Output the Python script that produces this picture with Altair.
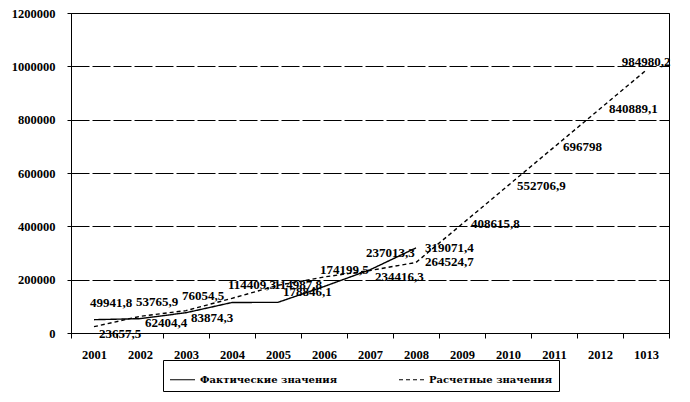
import altair as alt
import pandas as pd

years = list(range(2001, 2014))
x_labels = ["2001", "2002", "2003", "2004", "2005", "2006", "2007",
            "2008", "2009", "2010", "2011", "2012", "1013"]

actual = [49941.8, 53765.9, 76054.5, 114409.3, 114987.8, 174199.5, 237013.3, 319071.4]
actual_labels = ["49941,8", "53765,9", "76054,5", "114409,3", "114987,8",
                 "174199,5", "237013,3", "319071,4"]

calc = [23657.5, 62404.4, 83874.3, 130000.0, 178846.1, 210000.0, 234416.3,
        264524.7, 408615.8, 552706.9, 696798.0, 840889.1, 984980.2]
calc_labels = ["23657,5", "62404,4", "83874,3", "", "178846,1", "", "234416,3",
               "264524,7", "408615,8", "552706,9", "696798", "840889,1", "984980,2"]

s_act = "Фактические значения"
s_calc = "Расчетные значения"

rows = []
for y, v, l in zip(years, actual, actual_labels):
    rows.append({"year": y, "value": v, "series": s_act, "label": l})
for y, v, l in zip(years, calc, calc_labels):
    rows.append({"year": y, "value": v, "series": s_calc, "label": l})
df = pd.DataFrame(rows)

y_ticks = [0, 200000, 400000, 600000, 800000, 1000000, 1200000]
bounds = [y - 0.5 for y in years] + [years[-1] + 0.5]
last_fact_year = years[len(actual) - 1]

label_expr = "[" + ",".join("'" + s + "'" for s in x_labels) + "][datum.value - %d]" % years[0]

SERIF = "Liberation Serif"

xscale = alt.Scale(domain=[bounds[0], bounds[-1]], nice=False, zero=False)
yscale = alt.Scale(domain=[0, 1200000], nice=False)

x_lab = alt.X("year:Q", scale=xscale, title=None,
              axis=alt.Axis(values=years, labelExpr=label_expr, tickSize=0,
                            domain=False, grid=False, orient="bottom",
                            labelFont=SERIF, labelFontWeight="bold",
                            labelFontSize=12.5, labelColor="black",
                            labelPadding=15))
y_enc = alt.Y("value:Q", scale=yscale, title=None,
              axis=alt.Axis(values=y_ticks, grid=True, gridColor="black",
                            gridDash=[18, 3], gridWidth=1,
                            domainColor="black", tickColor="black", tickSize=4,
                            labelFont=SERIF, labelFontWeight="bold",
                            labelFontSize=12.5, labelColor="black",
                            labelPadding=12, format="d"))

lines = alt.Chart(df).mark_line(color="black", strokeWidth=1.4).encode(
    x=x_lab,
    y=y_enc,
    strokeDash=alt.StrokeDash(
        "series:N",
        scale=alt.Scale(domain=[s_act, s_calc], range=[[1, 0], [4, 3]]),
        legend=alt.Legend(
            title=None, orient="none", legendX=92, legendY=347,
            direction="horizontal", strokeColor="black", padding=6,
            symbolType="stroke", symbolSize=625, symbolStrokeWidth=1.2,
            symbolStrokeColor="black", labelFont="DejaVu Serif",
            labelFontWeight="bold", labelFontSize=10, labelColor="black",
            columnPadding=58, labelOffset=4, fillColor="white",
        ),
    ),
    detail="series:N",
)

tick_axis = alt.Chart(pd.DataFrame({"b": bounds})).mark_point(opacity=0).encode(
    x=alt.X("b:Q", scale=xscale, title=None,
            axis=alt.Axis(values=bounds, labels=False, tickSize=5,
                          tickColor="black", domainColor="black", grid=False,
                          orient="bottom")),
)

txt_style = dict(font=SERIF, fontWeight="bold", fontSize=13, color="black")
x_plain = alt.X("year:Q", scale=xscale, axis=None)
y_plain = alt.Y("value:Q", scale=yscale)
has_label = alt.datum.label != ""


def text_layer(cond, **mark_kw):
    return alt.Chart(df).transform_filter(cond & has_label).mark_text(
        **mark_kw, **txt_style
    ).encode(x=x_plain, y=y_plain, text="label:N")


# in-sample years: actual values above the line, calculated values below it
lab_act = text_layer((alt.datum.series == s_act) & (alt.datum.year < last_fact_year),
                     align="left", baseline="bottom", dx=-4, dy=-10)
lab_calc = text_layer((alt.datum.series == s_calc) & (alt.datum.year < last_fact_year),
                      align="left", baseline="top", dx=5, dy=1)
# last fact year and forecast: right of the point
lab_right = text_layer((alt.datum.year >= last_fact_year) & (alt.datum.year < years[-1]),
                       align="left", baseline="middle", dx=9)
# final point: above it
lab_last = text_layer(alt.datum.year == years[-1],
                      align="center", baseline="bottom", dy=-1)

chart = alt.layer(tick_axis, lines, lab_act, lab_calc, lab_right, lab_last).resolve_axis(
    x="independent"
).properties(
    width=598, height=320,
    padding={"left": 63, "top": 5, "right": 8, "bottom": 60},
    autosize=alt.AutoSizeParams(type="none"),
).configure_view(stroke="black", strokeWidth=1)

chart.save("out.html", embed_options={"renderer": "svg", "actions": False})
